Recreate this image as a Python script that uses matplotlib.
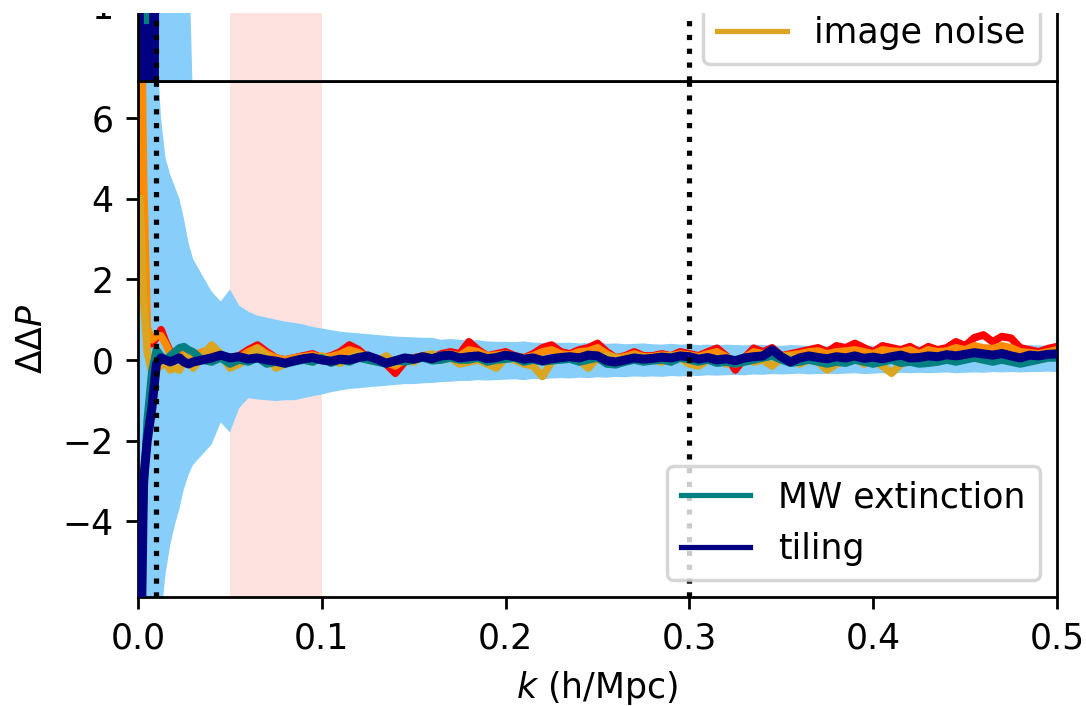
import numpy as np
import matplotlib
matplotlib.use("Agg")
import matplotlib.pyplot as plt
from matplotlib.patches import Rectangle

# k grid: a few points below 0.03, then regular steps of 0.005
k_low = [0.001, 0.003, 0.005, 0.0075, 0.01, 0.0125, 0.015, 0.0175, 0.02, 0.0225, 0.025, 0.0275]
k = np.concatenate([k_low, np.round(np.arange(0.03, 0.50001, 0.005), 4)])

# error band (light blue)
band_hi = [40, 30, 20, 12, 8.0, 6.0, 5.0, 4.6, 4.3, 4.0, 3.5, 2.9,
           2.5, 2.1, 1.7, 1.45, 1.75, 1.35, 1.2, 1.1, 1.05, 1.0,
           0.95, 0.92, 0.88, 0.82, 0.78, 0.74, 0.7, 0.68, 0.66, 0.64,
           0.62, 0.6, 0.58, 0.57, 0.56, 0.55, 0.55, 0.5, 0.52, 0.5,
           0.48, 0.49, 0.46, 0.45, 0.45, 0.44, 0.46, 0.43, 0.42, 0.44,
           0.42, 0.43, 0.41, 0.42, 0.44, 0.4, 0.41, 0.39, 0.4, 0.41,
           0.39, 0.38, 0.4, 0.38, 0.39, 0.37, 0.38, 0.36, 0.38, 0.37,
           0.36, 0.38, 0.37, 0.36, 0.35, 0.37, 0.36, 0.35, 0.36, 0.34,
           0.36, 0.35, 0.34, 0.36, 0.35, 0.34, 0.36, 0.35, 0.34, 0.35,
           0.36, 0.34, 0.35, 0.37, 0.35, 0.36, 0.38, 0.36, 0.37, 0.36,
           0.35, 0.37, 0.36, 0.35, 0.37]
band_lo = [-40, -30, -20, -12, -8.0, -6.4, -5.3, -4.6, -4.1, -3.7, -3.2, -2.85,
           -2.6, -2.35, -2.1, -1.55, -1.8, -1.2, -0.95, -0.98, -1.0, -1.02,
           -1.0, -1.0, -0.95, -0.9, -0.86, -0.8, -0.76, -0.72, -0.7, -0.68,
           -0.66, -0.64, -0.62, -0.6, -0.6, -0.58, -0.57, -0.55, -0.54, -0.52,
           -0.52, -0.5, -0.51, -0.5, -0.49, -0.48, -0.5, -0.47, -0.48, -0.46,
           -0.45, -0.46, -0.44, -0.45, -0.43, -0.44, -0.42, -0.43, -0.41, -0.42,
           -0.41, -0.42, -0.4, -0.41, -0.39, -0.4, -0.38, -0.39, -0.38, -0.37,
           -0.38, -0.36, -0.37, -0.35, -0.36, -0.35, -0.34, -0.36, -0.35, -0.34,
           -0.35, -0.34, -0.33, -0.35, -0.34, -0.33, -0.34, -0.32, -0.33, -0.32,
           -0.33, -0.32, -0.31, -0.33, -0.32, -0.31, -0.32, -0.3, -0.31, -0.3,
           -0.31, -0.3, -0.3, -0.29, -0.3]

red_vals = [6, 1.8, 0.6, 0.4, 0.55, 0.75, 0.45, 0.2, 0.1, 0.0, 0.1, 0.05,
            0.05, 0.15, 0.2, 0.1, 0.05, 0.1, 0.25, 0.37, 0.2, 0.05,
            0.0, 0.05, 0.1, 0.15, 0.05, 0.1, 0.2, 0.37, 0.25, 0.05,
            0.0, -0.1, -0.33, -0.05, 0.05, 0.1, 0.05, 0.15, 0.2, 0.15,
            0.45, 0.25, 0.1, 0.15, 0.2, 0.1, 0.05, 0.15, 0.3, 0.37,
            0.2, 0.15, 0.25, 0.3, 0.41, 0.2, 0.05, 0.1, 0.2, 0.1,
            0.1, 0.15, 0.1, 0.2, 0.15, 0.1, 0.2, 0.29, 0.1, -0.25,
            0.05, 0.29, 0.2, 0.3, 0.1, 0.15, 0.2, 0.25, 0.3, 0.2,
            0.35, 0.3, 0.41, 0.3, 0.2, 0.35, 0.3, 0.25, 0.33, 0.2,
            0.33, 0.25, 0.3, 0.45, 0.35, 0.55, 0.62, 0.45, 0.58, 0.54,
            0.3, 0.25, 0.2, 0.28, 0.33]
orange_vals = [12, 4.5, 0.8, 0.5, 0.6, 0.6, 0.4, 0.15, 0.1, 0.2, 0.25, 0.1,
               0.1, 0.2, 0.25, 0.1, 0.0, 0.05, 0.2, 0.3, 0.15, 0.05,
               0.0, 0.05, 0.08, 0.12, 0.05, 0.08, 0.15, 0.25, 0.18, 0.05,
               0.0, -0.05, -0.15, 0.0, 0.05, 0.08, 0.05, 0.12, 0.15, 0.1,
               0.25, 0.2, 0.1, 0.12, 0.15, 0.08, 0.05, 0.1, 0.2, 0.25,
               0.15, 0.12, 0.2, 0.22, 0.3, 0.15, 0.05, 0.08, 0.15, 0.08,
               0.08, 0.12, 0.1, 0.15, 0.12, 0.08, 0.15, 0.2, 0.08, -0.1,
               0.05, 0.2, 0.15, 0.22, 0.1, 0.12, 0.15, 0.2, 0.22, 0.15,
               0.2, 0.22, 0.25, 0.2, 0.15, 0.25, 0.22, 0.2, 0.25, 0.15,
               0.25, 0.2, 0.22, 0.3, 0.25, 0.35, 0.3, 0.28, 0.35, 0.3,
               0.2, 0.18, 0.15, 0.2, 0.25]
noise_vals = [4.0, 1.5, 0.2, -0.3, -0.2, -0.15, -0.05, -0.25, -0.2, -0.25, 0.0, 0.2,
              -0.2, 0.1, 0.37, 0.15, -0.2, -0.1, 0.05, 0.29, 0.1, -0.2,
              -0.1, 0.0, 0.05, -0.05, 0.1, 0.0, -0.08, 0.05, 0.15, 0.0,
              -0.05, 0.1, -0.1, 0.05, -0.05, 0.1, 0.15, 0.0, 0.05, -0.1,
              -0.05, 0.0, -0.1, -0.2, 0.05, 0.0, -0.1, -0.15, -0.41, -0.05,
              0.05, 0.1, 0.0, -0.2, 0.05, 0.1, 0.05, 0.0, 0.1, 0.05,
              0.0, -0.05, 0.1, 0.05, -0.1, -0.15, 0.0, 0.05, -0.1, 0.0,
              0.05, -0.05, 0.0, -0.15, 0.05, 0.1, -0.1, 0.0, -0.05, -0.25,
              -0.1, 0.0, 0.05, -0.1, 0.0, -0.15, -0.33, -0.1, 0.0, 0.05,
              0.0, -0.05, 0.1, 0.0, 0.15, 0.05, 0.0, 0.1, 0.05, 0.0,
              0.05, 0.1, 0.0, 0.05, 0.1]
mw_vals = [-6, -3.5, -1.5, -0.3, 0.25, 0.1, 0.0, 0.1, 0.2, 0.3, 0.33, 0.25,
           0.2, 0.0, -0.05, 0.05, -0.1, 0.0, -0.05, 0.05, -0.1, -0.05,
           -0.1, -0.05, 0.0, -0.05, 0.05, -0.08, 0.0, -0.05, 0.05, 0.0,
           -0.05, -0.1, 0.0, -0.05, 0.0, 0.05, -0.02, 0.0, 0.05, 0.0,
           0.0, 0.05, -0.05, 0.0, 0.02, 0.05, -0.05, 0.0, -0.05, -0.02,
           0.0, 0.02, -0.05, 0.0, 0.05, -0.1, -0.12, -0.05, 0.0, -0.05,
           -0.02, 0.0, -0.05, 0.05, 0.0, -0.05, 0.0, -0.08, -0.05, -0.1,
           -0.05, 0.0, 0.05, 0.1, 0.0, -0.08, -0.05, 0.0, -0.05, -0.1,
           -0.05, -0.08, 0.0, -0.05, -0.1, -0.05, 0.0, -0.08, -0.05, -0.1,
           -0.08, -0.05, 0.0, -0.05, 0.0, 0.05, 0.0, -0.05, 0.0, -0.05,
           -0.1, -0.05, 0.0, 0.05, 0.05]
tiling_vals = [-9, -3.0, -2.0, -1.2, -0.1, 0.05, 0.0, -0.05, 0.0, 0.05, -0.05, -0.1,
               -0.05, 0.0, 0.05, 0.12, 0.05, 0.08, 0.02, 0.05, 0.0, -0.03,
               -0.08, -0.02, 0.03, 0.06, 0.0, -0.03, 0.02, 0.0, 0.06, 0.1,
               0.02, -0.08, -0.02, 0.05, 0.02, 0.08, 0.03, 0.1, 0.12, 0.05,
               0.08, 0.1, 0.03, 0.06, 0.12, 0.08, 0.02, 0.05, -0.02, 0.03,
               0.06, 0.08, 0.05, 0.12, 0.1, -0.02, -0.05, 0.0, 0.05, 0.02,
               0.04, 0.07, 0.05, 0.1, 0.08, 0.02, 0.06, 0.0, 0.03, -0.02,
               0.05, 0.08, 0.1, 0.25, 0.08, -0.05, 0.05, 0.1, 0.06, 0.03,
               0.08, 0.05, 0.1, 0.04, 0.07, 0.03, 0.08, 0.12, 0.05, 0.06,
               0.1, 0.08, 0.13, 0.1, 0.14, 0.18, 0.15, 0.12, 0.16, 0.1,
               0.05, 0.12, 0.1, 0.14, 0.15]

# upper (cropped) panel
k_top = [0.0005, 0.0015, 0.0025, 0.0035, 0.0045, 0.0055, 0.0065, 0.0075, 0.0085, 0.0095, 0.0105]
tiling_top = [3.5, -2, 3.5, -2, 3.5, -2, 3.5, -2, 3.5, -2, 3.5]
k_top_band = [0.0, 0.01, 0.02, 0.026, 0.0285, 0.03, 0.04, 0.5]
band_top_hi = [8, 6, 3, 1.5, 1.0, 0.3, 0.2, 0.1]
k_top_mw = [0.0045, 0.0045]
mw_top = [0.9, 3.0]

fig = plt.figure(figsize=(4.344, 2.824), dpi=250)
ax = fig.add_axes([0.1271, 0.1544, 0.8462, 0.7309])
ax_top = fig.add_axes([0.1271, 0.8853, 0.8462, 0.7309])

for a in (ax, ax_top):
    a.axvspan(0.05, 0.1, color='#fde2df', lw=0, zorder=0)
    a.axvline(0.01, color='black', ls=':', lw=1.5, zorder=4)
    a.axvline(0.3, color='black', ls=':', lw=1.5, zorder=4)
    a.set_xlim(0, 0.5)

# bottom panel
ax.fill_between(k, band_lo, band_hi, color='lightskyblue', lw=0, zorder=1)
ax.plot(k, red_vals, color='red', lw=2.2, zorder=2, solid_joinstyle='round')
ax.plot(k, orange_vals, color='darkorange', lw=2.2, zorder=2, solid_joinstyle='round')
l_noise, = ax.plot(k, noise_vals, color='goldenrod', lw=2.2, zorder=2, solid_joinstyle='round',
                   label='image noise')
l_mw, = ax.plot(k, mw_vals, color='teal', lw=2.2, zorder=2, solid_joinstyle='round',
                label='MW extinction')
l_tile, = ax.plot(k, tiling_vals, color='navy', lw=2.6, zorder=3, solid_joinstyle='round',
                  label='tiling')
ax.set_ylim(-5.88, 6.92)
ax.set_xlabel(r'$k$ (h/Mpc)')
ax.set_ylabel(r'$\Delta\Delta P$')
leg = ax.legend(handles=[l_mw, l_tile], loc='lower right')
for h in leg.get_lines():
    h.set_linewidth(1.5)

# top panel
ax_top.fill_between(k_top_band, [-v for v in band_top_hi], band_top_hi, color='lightskyblue', lw=0, zorder=1)
ax_top.plot(k_top, tiling_top, color='navy', lw=1.5, zorder=2)
ax_top.plot(k_top_mw, mw_top, color='teal', lw=1.5, zorder=3)
ax_top.set_ylim(0.5, 3.92)
ax_top.set_yticks([1, 2, 3])
ax_top.tick_params(bottom=False, labelbottom=False)
leg_top = ax_top.legend(handles=[l_noise], loc='lower right')
for h in leg_top.get_lines():
    h.set_linewidth(1.5)

# crop strip at the top
fig.add_artist(Rectangle((0, 1 - 13 / 706), 1, 13 / 706, transform=fig.transFigure,
                         facecolor='white', edgecolor='none', zorder=100))

fig.savefig('out.png', dpi=250)
